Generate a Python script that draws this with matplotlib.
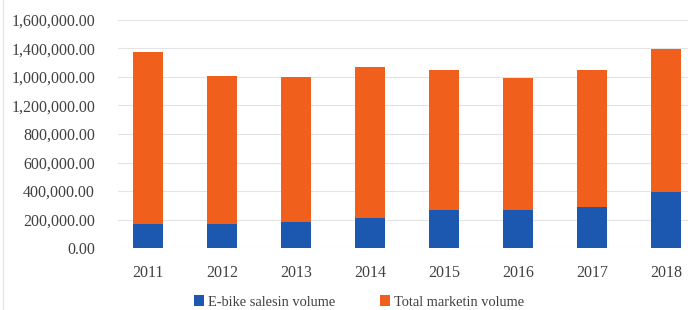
import matplotlib
matplotlib.use('Agg')
import matplotlib.pyplot as plt
import numpy as np

years = ['2011', '2012', '2013', '2014', '2015', '2016', '2017', '2018']
ebike_sales = [168000, 168000, 185000, 208000, 267000, 267000, 285000, 395000]
total_market = [1377000, 1209000, 1198000, 1272000, 1249000, 1195000, 1249000, 1396000]

# tick labels as printed on the original (the 1.0M / 1.2M labels are swapped there)
ytick_values = [0, 200000, 400000, 600000, 800000, 1000000, 1200000, 1400000, 1600000]
ytick_labels = ['0.00', '200,000.00', '400,000.00', '600,000.00', '800,000.00',
                '1,200,000.00', '1,000,000.00', '1,400,000.00', '1,600,000.00']

orange = '#F0601C'
blue = '#1C58B0'
text_col = '#404040'

plt.rcParams['font.family'] = ['Liberation Serif', 'DejaVu Serif']

fig = plt.figure(figsize=(6.88, 3.10), dpi=100)
ax = fig.add_axes([118 / 688, 1 - 248 / 310, 570 / 688, 228 / 310])

x = np.arange(len(years))
ax.bar(x, total_market, width=0.4, color=orange, label='Total marketin volume', zorder=2)
ax.bar(x, ebike_sales, width=0.4, color=blue, label='E-bike salesin volume', zorder=3)

ax.set_xlim(-0.405, 7.297)
ax.set_ylim(0, 1600000)
ax.set_yticks(ytick_values)
ax.set_yticklabels(ytick_labels, fontsize=11.5, color=text_col)
ax.set_xticks(x)
ax.set_xticklabels(years, fontsize=11.5, color=text_col)
ax.tick_params(axis='y', length=0, pad=16.5)
ax.tick_params(axis='x', length=0, pad=12)
ax.grid(axis='y', color='#E3E3E3', linewidth=0.8, zorder=0)
for s in ax.spines.values():
    s.set_visible(False)

# faint frame edge on the left of the original
fig.add_artist(plt.Line2D([2.5 / 688, 2.5 / 688], [0, 1], color='#E6E6E6', linewidth=1))

handles, labels = ax.get_legend_handles_labels()
fig.legend(handles[::-1], labels[::-1], loc='center', bbox_to_anchor=(359 / 688, 1 - 302 / 310),
           ncol=2, frameon=False, fontsize=10.4, handlelength=0.7, handleheight=0.7,
           columnspacing=3.1, handletextpad=0.25, labelcolor=text_col)

plt.savefig('out.png', dpi=100)
